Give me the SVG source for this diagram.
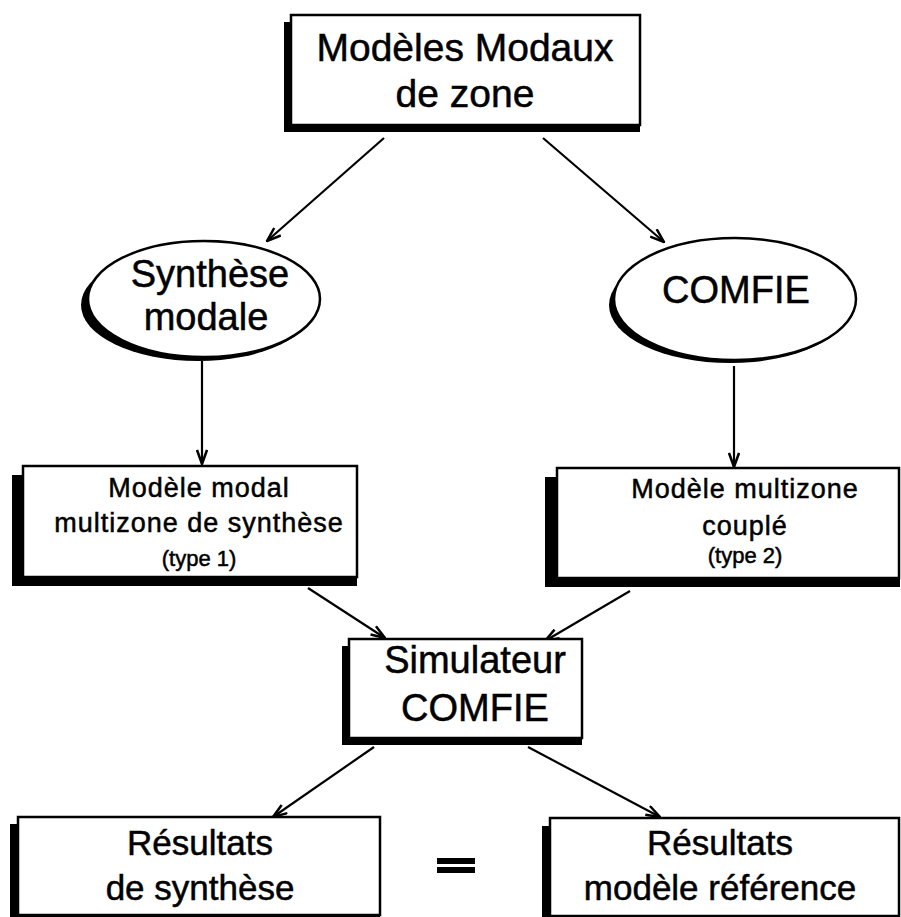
<svg xmlns="http://www.w3.org/2000/svg" width="901" height="917" viewBox="0 0 901 917">
<style>
.box{fill:#fff;stroke:#000;stroke-width:2.5}
.sh{fill:#000}
.t{font-family:"Liberation Sans",Arial,sans-serif;fill:#000;stroke:#000;stroke-width:0.5;text-anchor:middle}
.c{stroke:#000;stroke-width:2.2;fill:none}
</style>
<defs>
<marker id="arr" viewBox="0 0 16 12" refX="15" refY="6" markerWidth="16" markerHeight="12" markerUnits="userSpaceOnUse" orient="auto">
<path d="M1,1 L15,6 L1,11" fill="none" stroke="#000" stroke-width="2.5"/>
</marker>
</defs>
<rect width="901" height="917" fill="#fff"/>
<g id="connectors">
<line class="c" x1="384" y1="138" x2="267" y2="241" marker-end="url(#arr)"/>
<line class="c" x1="543" y1="138" x2="664" y2="242" marker-end="url(#arr)"/>
<line class="c" x1="202" y1="361" x2="202" y2="464" marker-end="url(#arr)"/>
<line class="c" x1="734" y1="366" x2="734" y2="467" marker-end="url(#arr)"/>
<line class="c" x1="308" y1="588" x2="385" y2="638" marker-end="url(#arr)"/>
<line class="c" x1="630" y1="591" x2="545" y2="641" marker-end="url(#arr)"/>
<line class="c" x1="374" y1="747" x2="273" y2="817" marker-end="url(#arr)"/>
<line class="c" x1="528" y1="747" x2="660" y2="817" marker-end="url(#arr)"/>
</g>
<g id="n-top">
<rect class="sh" x="284" y="22" width="356" height="110"/>
<rect class="box" x="291" y="15" width="349" height="110"/>
<text class="t" x="465" y="61" font-size="39">Modèles Modaux</text>
<text class="t" x="465" y="107" font-size="39">de zone</text>
</g>
<g id="n-synthese">
<ellipse class="sh" cx="198" cy="305" rx="117" ry="56"/>
<ellipse cx="204" cy="299" rx="116" ry="58" fill="#fff" stroke="#000" stroke-width="2.5"/>
<text class="t" x="210" y="287" font-size="38">Synthèse</text>
<text class="t" x="206" y="330" font-size="38">modale</text>
</g>
<g id="n-comfie">
<ellipse class="sh" cx="730" cy="305" rx="121" ry="58"/>
<ellipse cx="735" cy="299" rx="121" ry="61" fill="#fff" stroke="#000" stroke-width="2.5"/>
<text class="t" x="736" y="303" font-size="38">COMFIE</text>
</g>
<g id="n-type1">
<rect class="sh" x="12" y="475" width="345" height="111"/>
<rect class="box" x="23" y="466" width="334" height="111"/>
<text class="t" x="199" y="497" font-size="27" letter-spacing="1">Modèle  modal</text>
<text class="t" x="199" y="532" font-size="27" letter-spacing="1">multizone de synthèse</text>
<text class="t" x="199" y="566" font-size="22">(type 1)</text>
</g>
<g id="n-type2">
<rect class="sh" x="545" y="477" width="355" height="110"/>
<rect class="box" x="557" y="468" width="342" height="110"/>
<text class="t" x="745" y="498" font-size="27" letter-spacing="1">Modèle  multizone</text>
<text class="t" x="745" y="535" font-size="27" letter-spacing="1">couplé</text>
<text class="t" x="745" y="563" font-size="22">(type 2)</text>
</g>
<g id="n-simulateur">
<rect class="sh" x="342" y="646" width="240" height="99"/>
<rect class="box" x="349" y="639" width="233" height="99"/>
<text class="t" x="475" y="673" font-size="38">Simulateur</text>
<text class="t" x="475" y="721" font-size="38">COMFIE</text>
</g>
<g id="n-res-synthese">
<rect class="sh" x="10" y="824" width="370" height="93"/>
<rect class="box" x="18" y="817" width="362" height="98"/>
<text class="t" x="200" y="855" font-size="35">Résultats</text>
<text class="t" x="200" y="900" font-size="35">de synthèse</text>
</g>
<g id="eq">
<rect x="437" y="858" width="38" height="6" fill="#000"/>
<rect x="437" y="867" width="38" height="6" fill="#000"/>
</g>
<g id="n-res-reference">
<rect class="sh" x="542" y="826" width="358" height="91"/>
<rect class="box" x="550" y="818" width="349" height="98"/>
<text class="t" x="720" y="855" font-size="35">Résultats</text>
<text class="t" x="720" y="900" font-size="35">modèle  référence</text>
</g>
</svg>
